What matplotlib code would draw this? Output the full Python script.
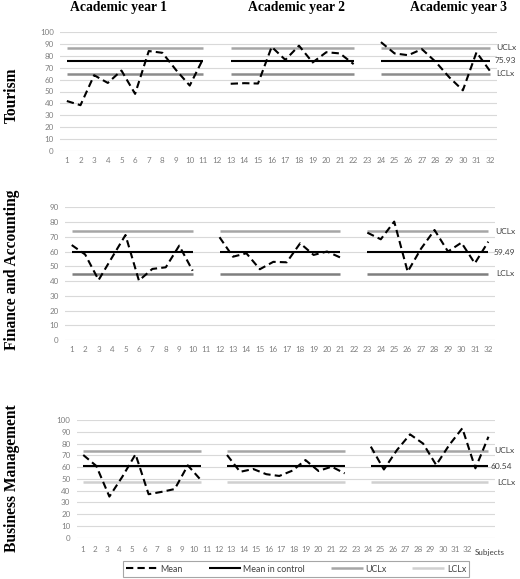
import numpy as np
import matplotlib
matplotlib.use("Agg")
import matplotlib.pyplot as plt

# ---------------- data ----------------
subjects = list(range(1, 33))
year_titles = ["Academic year 1", "Academic year 2", "Academic year 3"]
panel_names = ["Tourism", "Finance and Accounting", "Business Management"]

# Tourism
tour_start = [1, 13, 24]
tour_y1 = [42, 38.5, 63.7, 57.2, 67.6, 48, 84, 82.5, 68, 55, 78]
tour_y2 = [56.5, 57, 56.7, 87.5, 76.6, 88.5, 74.4, 83, 82, 73]
tour_y3 = [91.5, 82, 80.5, 85.6, 75, 62, 51, 83, 67]
tour_mean, tour_ucl, tour_lcl = 75.93, 86.9, 65.0

# Finance and Accounting
fin_start = [1, 12, 23]
fin_y1 = [64.4, 58, 40.7, 56, 71.2, 40.3, 48.2, 49.3, 64, 47]
fin_y2 = [69.7, 56.5, 58.8, 48, 53, 52.7, 65.6, 57.7, 60, 55.9]
fin_y3 = [72.8, 68.3, 80.3, 46.3, 62, 74.6, 60, 66, 52, 66.7]
fin_mean, fin_ucl, fin_lcl = 59.49, 73.9, 45.0

# Business Management
bus_start = [1, 12, 23]
bus_y1 = [70.3, 61, 35, 52, 70.9, 37, 39, 41.4, 61.5, 49]
bus_y2 = [70.3, 56, 58.4, 54, 52.5, 57, 66, 56.7, 60.4, 54.7]
bus_y3 = [77.4, 58, 74.5, 87.8, 80, 61.8, 78.8, 93, 59, 85.8]
bus_mean, bus_ucl, bus_lcl = 60.54, 74.0, 47.1

panels = [
    dict(name=panel_names[0], starts=tour_start, series=[tour_y1, tour_y2, tour_y3],
         mean=tour_mean, ucl=tour_ucl, lcl=tour_lcl, ymax=100,
         pos=[60, 151, 437, 119], lcl_color="#8c8c8c", label_off=(4.5, 3.5, 4.5)),
    dict(name=panel_names[1], starts=fin_start, series=[fin_y1, fin_y2, fin_y3],
         mean=fin_mean, ucl=fin_ucl, lcl=fin_lcl, ymax=90,
         pos=[65, 340, 430, 132.7], lcl_color="#7f7f7f", label_off=(5, 4, 6)),
    dict(name=panel_names[2], starts=bus_start, series=[bus_y1, bus_y2, bus_y3],
         mean=bus_mean, ucl=bus_ucl, lcl=bus_lcl, ymax=100,
         pos=[76.7, 537.8, 418.3, 117.8], lcl_color="#d0d0d0", label_off=(4.5, 1.5, 6)),
]

W, H = 520, 579
fig = plt.figure(figsize=(W / 100, H / 100), dpi=100)

TICK_FONT = "Lato"
tick_color = "#7f7f7f"
label_color = "#404040"
ucl_color = "#a6a6a6"

handles = None
row_label_y = [95, 270, 478]

for i, p in enumerate(panels):
    l, b, w, h = p["pos"]
    ax = fig.add_axes([l / W, (H - b) / H, w / W, h / H])
    ax.set_xlim(0.5, 32.5)
    ax.set_ylim(0, p["ymax"])
    ax.set_yticks(np.arange(0, p["ymax"] + 1, 10))
    ax.yaxis.grid(True, color="#d9d9d9", lw=0.8)
    ax.set_axisbelow(True)
    for s in ax.spines.values():
        s.set_visible(False)
    ax.tick_params(length=0, labelsize=5.8, labelcolor=tick_color, pad=4.5)
    for t in ax.get_yticklabels():
        t.set_fontfamily(TICK_FONT)

    for k, (st, vals) in enumerate(zip(p["starts"], p["series"])):
        xs = np.arange(st, st + len(vals))
        x0, x1 = xs[0], xs[-1]
        hu, = ax.plot([x0, x1], [p["ucl"], p["ucl"]], color=ucl_color, lw=1.8,
                      solid_capstyle="butt", label="UCLx")
        hl, = ax.plot([x0, x1], [p["lcl"], p["lcl"]], color=p["lcl_color"], lw=1.8,
                      solid_capstyle="butt", label="LCLx")
        hc, = ax.plot([x0, x1], [p["mean"], p["mean"]], color="black", lw=1.5,
                      solid_capstyle="butt", label="Mean in control")
        hm, = ax.plot(xs, vals, color="black", lw=1.5, linestyle=(0, (3.5, 2)),
                      label="Mean")
        if i == 2 and k == 0:
            handles = [hm, hc, hu, hl]

    # right-hand labels
    offs = p["label_off"]
    for val, txt, off in [(p["ucl"], "UCLx", offs[0]),
                          (p["mean"], f"{p['mean']:.2f}", offs[1]),
                          (p["lcl"], "LCLx", offs[2])]:
        ax.annotate(txt, xy=(32, val), xytext=(off, 0), textcoords="offset points",
                    ha="left", va="center", fontsize=6.0, color=label_color,
                    family=TICK_FONT, annotation_clip=False)

    if i < 2:
        ax.set_xticks(subjects)
        ax.set_xticklabels([str(s) for s in subjects])
        for t in ax.get_xticklabels():
            t.set_fontfamily(TICK_FONT)
    else:
        ax.set_xticks([])
        ax2 = ax.twiny()
        ax2.xaxis.set_ticks_position("bottom")
        ax2.set_xlim(0.55, 34.2)
        ax2.set_xticks(subjects)
        ax2.set_xticklabels([str(s) for s in subjects])
        ax2.tick_params(length=0, labelsize=5.8, labelcolor=tick_color, pad=6)
        for t in ax2.get_xticklabels():
            t.set_fontfamily(TICK_FONT)
        for s in ax2.spines.values():
            s.set_visible(False)
        fig.text(490 / W, 1 - 552 / H, "Subjects", ha="center", va="center",
                 fontsize=5.8, color=label_color, family=TICK_FONT)

    fig.text(12 / W, 1 - row_label_y[i] / H, p["name"], rotation=90,
             ha="center", va="center", fontsize=11.2, fontweight="bold",
             family="Liberation Serif")

# column titles
for title, xc in zip(year_titles, [118, 297, 458]):
    fig.text(xc / W, 1 - 8 / H, title, ha="center", va="center", fontsize=9.8,
             fontweight="bold", family="Liberation Serif")

fig.legend(handles, [h.get_label() for h in handles], loc="center",
           bbox_to_anchor=(296 / W, 1 - 569 / H), ncol=4, frameon=True,
           fancybox=False, edgecolor="#a6a6a6", framealpha=1,
           prop={"family": TICK_FONT, "size": 6.4}, handlelength=3.6,
           handletextpad=0.3, columnspacing=2.9, borderpad=0.35)
leg = fig.legends[0]
leg.get_frame().set_linewidth(0.8)
for t in leg.get_texts():
    t.set_color(label_color)

fig.savefig("out.png", dpi=100)
